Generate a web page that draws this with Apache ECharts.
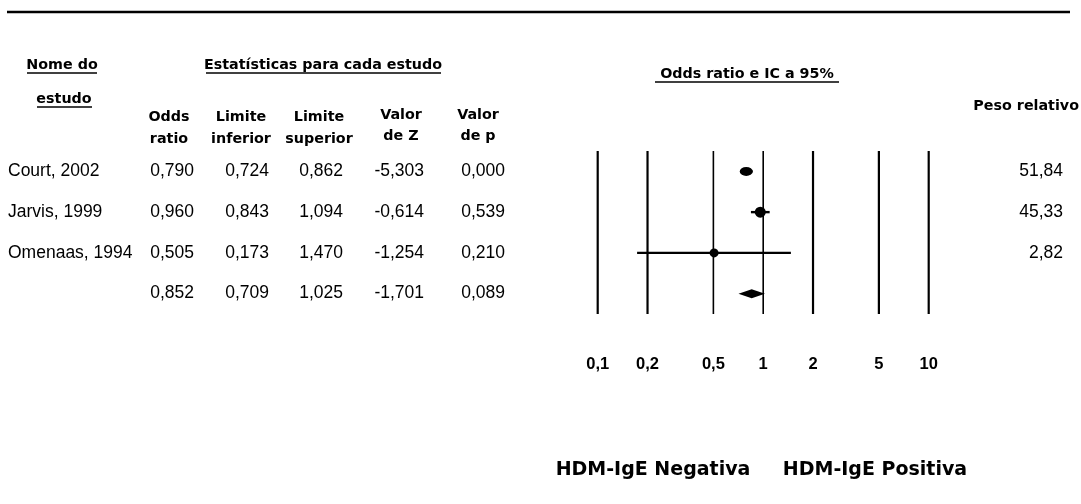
<!DOCTYPE html>
<html>
<head>
<meta charset="utf-8">
<script src="https://cdn.jsdelivr.net/npm/echarts@6/dist/echarts.min.js"></script>
<style>
html,body{margin:0;padding:0;background:#fff;}
#chart{width:1081px;height:504px;}
</style>
</head>
<body>
<div id="chart"></div>
<script>
// ---- data ----
const studies = ['Court, 2002', 'Jarvis, 1999', 'Omenaas, 1994', ''];
const oddsRatio = [0.790, 0.960, 0.505, 0.852];
const lowerLimit = [0.724, 0.843, 0.173, 0.709];
const upperLimit = [0.862, 1.094, 1.470, 1.025];
const zValue = [-5.303, -0.614, -1.254, -1.701];
const pValue = [0.000, 0.539, 0.210, 0.089];
const relWeight = [51.84, 45.33, 2.82, null];
const tickValues = [0.1, 0.2, 0.5, 1, 2, 5, 10];
const tickLabels = ['0,1', '0,2', '0,5', '1', '2', '5', '10'];

// ---- styles / layout (not data) ----
const markerSizes = [[13, 9], [11, 11], [9, 9]];
const colRight = [194, 269, 343, 424, 505];
const weightRight = 1063;
const HEAD_FONT = '"DejaVu Sans", sans-serif';
const DATA_FONT = '"Liberation Sans", Arial, sans-serif';

const fmt = (v, d) => v.toFixed(d).replace('.', ',');

const chart = echarts.init(document.getElementById('chart'), null, {renderer: 'canvas'});

const rows = studies.map((s, i) => [i]);

function headText(x, y, text, align, size) {
  return {
    type: 'text', x: x, y: y,
    style: {text: text, fill: '#000', font: 'bold ' + (size || 14.3) + 'px ' + HEAD_FONT,
      align: align || 'center', verticalAlign: 'middle'}
  };
}
function underline(x1, x2, y) {
  return {type: 'line', shape: {x1: x1, y1: y, x2: x2, y2: y}, style: {stroke: '#000', lineWidth: 1.5}};
}

const option = {
  animation: false,
  backgroundColor: '#fff',
  grid: {left: 597.7, right: 152.3, top: 151, height: 163},
  xAxis: {type: 'log', logBase: 10, min: 0.1, max: 10, show: false},
  yAxis: {type: 'value', min: -0.5, max: 3.5, inverse: true, show: false},
  graphic: [
    {type: 'line', shape: {x1: 7, y1: 12, x2: 1070, y2: 12}, style: {stroke: '#000', lineWidth: 2.5}},
    headText(62, 65, 'Nome do'), underline(27, 97, 73),
    headText(64, 99, 'estudo'), underline(37, 92, 107),
    headText(323, 65, 'Estatísticas para cada estudo'), underline(206, 441, 73),
    headText(747, 74, 'Odds ratio e IC a 95%'), underline(655, 839, 82),
    headText(1079, 106, 'Peso relativo', 'right'),
    headText(169, 117, 'Odds'), headText(169, 139, 'ratio'),
    headText(241, 117, 'Limite'), headText(241, 139, 'inferior'),
    headText(319, 117, 'Limite'), headText(319, 139, 'superior'),
    headText(401, 115, 'Valor'), headText(401, 136, 'de Z'),
    headText(478, 115, 'Valor'), headText(478, 136, 'de p'),
    headText(653, 470, 'HDM-IgE Negativa', 'center', 19),
    headText(875, 470, 'HDM-IgE Positiva', 'center', 19)
  ],
  series: [
    {
      // vertical reference lines and tick labels
      type: 'custom', name: 'ticks', silent: true,
      data: tickValues.map((v, i) => [v, i]),
      renderItem: function (params, api) {
        const v = api.value(0);
        const i = api.value(1);
        const p1 = api.coord([v, -0.5]);
        const p2 = api.coord([v, 3.5]);
        const thin = (v === 0.5 || v === 1);
        return {
          type: 'group',
          children: [
            {type: 'line', shape: {x1: p1[0], y1: p1[1], x2: p2[0], y2: p2[1]},
              style: {stroke: '#000', lineWidth: thin ? 1.6 : 2.2}},
            {type: 'text', x: p2[0], y: p2[1] + 50,
              style: {text: tickLabels[i], fill: '#000', font: 'bold 16.5px ' + DATA_FONT,
                align: 'center', verticalAlign: 'middle'}}
          ]
        };
      }
    },
    {
      // confidence interval lines
      type: 'custom', name: 'ci', silent: true,
      data: [0, 1, 2].map(i => [lowerLimit[i], upperLimit[i], i]),
      renderItem: function (params, api) {
        const a = api.coord([api.value(0), api.value(2)]);
        const b = api.coord([api.value(1), api.value(2)]);
        return {type: 'line', shape: {x1: a[0], y1: a[1], x2: b[0], y2: b[1]},
          style: {stroke: '#000', lineWidth: 2.4}};
      }
    },
    {
      type: 'scatter', name: 'or', silent: true,
      data: [0, 1, 2].map(i => ({value: [oddsRatio[i], i], symbolSize: markerSizes[i]})),
      symbol: 'circle',
      itemStyle: {color: '#000', opacity: 1}
    },
    {
      // summary diamond
      type: 'custom', name: 'summary', silent: true,
      data: [[oddsRatio[3], lowerLimit[3], upperLimit[3], 3]],
      renderItem: function (params, api) {
        const c = api.coord([api.value(0), api.value(3)]);
        const l = api.coord([api.value(1), api.value(3)]);
        const r = api.coord([api.value(2), api.value(3)]);
        const h = 4.5;
        return {type: 'polygon',
          shape: {points: [[l[0], l[1]], [c[0], c[1] - h], [r[0], r[1]], [c[0], c[1] + h]]},
          style: {fill: '#000'}};
      }
    },
    {
      // table text
      type: 'custom', name: 'table', silent: true,
      data: rows,
      renderItem: function (params, api) {
        const i = api.value(0);
        const y = api.coord([1, i])[1];
        const vals = [fmt(oddsRatio[i], 3), fmt(lowerLimit[i], 3), fmt(upperLimit[i], 3),
          fmt(zValue[i], 3), fmt(pValue[i], 3)];
        const f = '17.5px ' + DATA_FONT;
        const children = [{type: 'text', x: 8, y: y,
          style: {text: studies[i], fill: '#000', font: f, align: 'left', verticalAlign: 'middle'}}];
        vals.forEach((t, k) => children.push({type: 'text', x: colRight[k], y: y,
          style: {text: t, fill: '#000', font: f, align: 'right', verticalAlign: 'middle'}}));
        if (relWeight[i] != null) {
          children.push({type: 'text', x: weightRight, y: y,
            style: {text: fmt(relWeight[i], 2), fill: '#000', font: f, align: 'right', verticalAlign: 'middle'}});
        }
        return {type: 'group', children: children};
      }
    }
  ]
};
chart.setOption(option);
</script>
</body>
</html>
